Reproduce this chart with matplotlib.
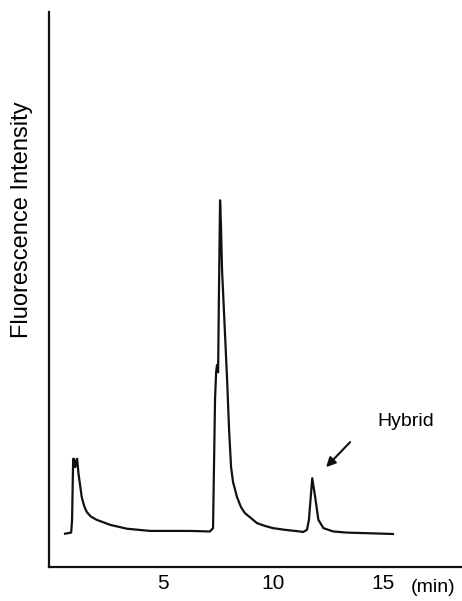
import matplotlib.pyplot as plt

plt.rcParams['font.family'] = ['Liberation Sans', 'DejaVu Sans']

# retention time (min) and fluorescence intensity (arbitrary units)
time_min = [0.53, 0.81, 0.85, 0.90, 0.94, 0.99, 1.03, 1.08, 1.14, 1.22, 1.29, 1.40,
            1.52, 1.70, 1.97, 2.58, 3.34, 4.40, 6.21, 7.12, 7.26, 7.35, 7.40, 7.44,
            7.49, 7.53, 7.58, 7.62, 7.67, 7.76, 7.90, 7.99, 8.08, 8.17, 8.35, 8.53,
            8.71, 8.99, 9.26, 9.62, 9.99, 10.53, 11.21, 11.35, 11.53, 11.62, 11.77,
            11.90, 12.05, 12.28, 12.73, 13.34, 15.44]
intensity = [6.0, 6.2, 8.5, 19.5, 19.5, 18.0, 18.9, 19.5, 16.9, 14.6, 12.6, 11.0,
             9.9, 9.1, 8.5, 7.6, 6.9, 6.5, 6.5, 6.4, 7.0, 30.1, 35.1, 36.4,
             35.1, 49.9, 66.1, 61.6, 53.5, 45.8, 33.7, 24.7, 18.0, 15.3, 12.6, 10.8,
             9.7, 8.8, 7.9, 7.4, 7.0, 6.7, 6.4, 6.3, 6.7, 8.5, 16.0,
             12.7, 8.5, 7.0, 6.4, 6.2, 5.95]

xticks = [5, 10, 15]
xtick_labels = ['5', '10', '15']

fig = plt.figure(figsize=(4.62, 6.01), dpi=100)
ax = fig.add_axes([0.106, 0.0566, 0.894, 0.923])

ax.plot(time_min, intensity, color='#111111', linewidth=1.6, solid_joinstyle='round')

ax.set_xlim(-0.2, 18.58)
ax.set_ylim(0, 100)

for side in ['top', 'right']:
    ax.spines[side].set_visible(False)
for side in ['left', 'bottom']:
    ax.spines[side].set_linewidth(1.6)
    ax.spines[side].set_color('#111111')

ax.set_xticks(xticks)
ax.set_xticklabels(xtick_labels, fontsize=15)
ax.set_yticks([])
ax.tick_params(axis='x', length=0, pad=5)

ax.annotate('', xy=(12.40, 18.0), xytext=(13.49, 22.5),
            arrowprops=dict(arrowstyle='-|>', color='#111111', lw=1.5,
                            mutation_scale=14, shrinkA=0, shrinkB=0))
ax.text(14.71, 26.3, 'Hybrid', fontsize=14, ha='left', va='center')

fig.text(433 / 462, 1 - 588 / 601, '(min)', fontsize=14, ha='center', va='center')
fig.text(22 / 462, 1 - 220 / 601, 'Fluorescence Intensity', fontsize=17,
         rotation=90, ha='center', va='center')

fig.savefig('out.png', dpi=100)
